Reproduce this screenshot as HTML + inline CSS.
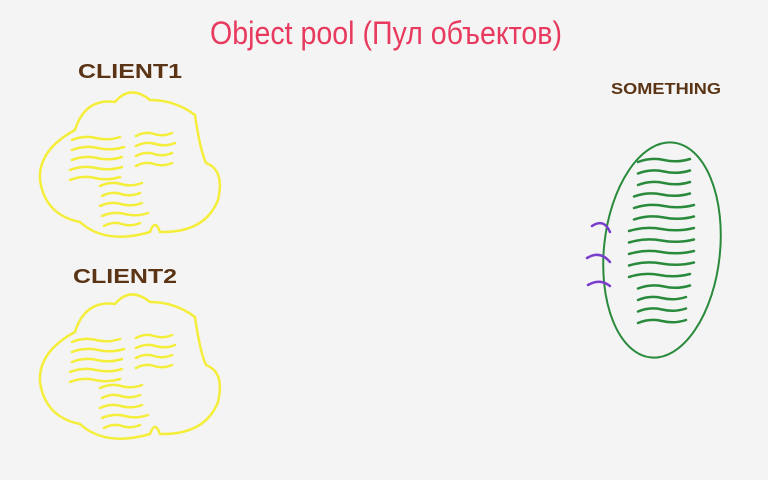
<!DOCTYPE html>
<html><head><meta charset="utf-8"><style>
html,body{margin:0;padding:0;background:#f4f4f4;}
svg{display:block;}
text{font-family:"Liberation Sans",sans-serif;}
</style></head><body>
<svg id="s" width="768" height="480" viewBox="0 0 768 480">
<rect width="768" height="480" fill="#f4f4f4"/>
<text x="386" y="44" text-anchor="middle" font-size="32" fill="#e83a5e" textLength="352" lengthAdjust="spacingAndGlyphs">Object pool (Пул объектов)</text>
<text x="78" y="78" font-size="20" fill="#5a3414" font-weight="bold" textLength="104" lengthAdjust="spacingAndGlyphs">CLIENT1</text>
<text x="73" y="283" font-size="20" fill="#5a3414" font-weight="bold" textLength="104" lengthAdjust="spacingAndGlyphs">CLIENT2</text>
<text x="611" y="94" font-size="16" fill="#5a3414" font-weight="bold" textLength="110" lengthAdjust="spacingAndGlyphs">SOMETHING</text>
<g id="c1"></g>
<g id="c2"></g>
<g>
<ellipse cx="662" cy="250" rx="58" ry="108" transform="rotate(6 662 250)" fill="none" stroke="#2a8a3c" stroke-width="2"/>
<g id="glines" stroke="#2a8a3c" stroke-width="2.5" fill="none" stroke-linecap="round"></g>
</g>
<g stroke="#7a3ccc" stroke-width="2.5" fill="none" stroke-linecap="round">
<path d="M592 226 Q604 218 610 232"/>
<path d="M587 258 Q600 250 610 262"/>
<path d="M588 285 Q600 278 610 286"/>
</g>
</svg>
<script>
var ns="http://www.w3.org/2000/svg";
function cloud(g,dx,dy){
  var p=document.createElementNS(ns,"path");
  p.setAttribute("d","M75 130 Q85 98 115 102 Q130 84 150 100 Q175 100 195 115 Q200 150 206 163 Q225 170 218 200 Q205 233 160 232 Q155 218 150 232 Q105 245 80 222 Q45 215 40 180 Q38 150 75 130 Z");
  p.setAttribute("transform","translate("+dx+","+dy+")");
  p.setAttribute("fill","none");p.setAttribute("stroke","#f4ee3a");p.setAttribute("stroke-width","2.5");
  
  
  g.appendChild(p);
  var rows=[[72,140,120],[72,150,124],[72,160,122],[70,170,122],[70,180,120],[136,136,172],[136,146,175],[136,156,172],[136,166,172],[100,186,142],[102,196,140],[100,206,142],[102,216,148],[104,226,140]];
  rows.forEach(function(r){
    var l=document.createElementNS(ns,"path");
    var a=r[0],b=r[2],y=r[1];
    l.setAttribute("d","M"+(a+dx)+" "+(y+dy)+" Q"+(a+(b-a)*0.25+dx)+" "+(y-5+dy)+" "+((a+b)/2+dx)+" "+(y-2+dy)+" T"+(b+dx)+" "+(y-3+dy));
    l.setAttribute("fill","none");l.setAttribute("stroke","#f4ee3a");l.setAttribute("stroke-width","2.5");l.setAttribute("stroke-linecap","round");
    
    
    g.appendChild(l);
  });
}
cloud(document.getElementById("c1"),0,0);
cloud(document.getElementById("c2"),0,202);
var gl=document.getElementById("glines");
for(var i=0;i<15;i++){
  var y=162+i*11.5, x1=638-(i>5&&i<11?9:(i>2&&i<6?4:0)), x2=690+(i>3&&i<10?4:0)-(i>11?4:0);
  var l=document.createElementNS(ns,"path");
  l.setAttribute("d","M"+x1+" "+y+" Q"+(x1+(x2-x1)*0.25)+" "+(y-5)+" "+((x1+x2)/2)+" "+(y-2)+" T"+x2+" "+(y-3));
  
  
  gl.appendChild(l);
}
</script>
</body></html>
